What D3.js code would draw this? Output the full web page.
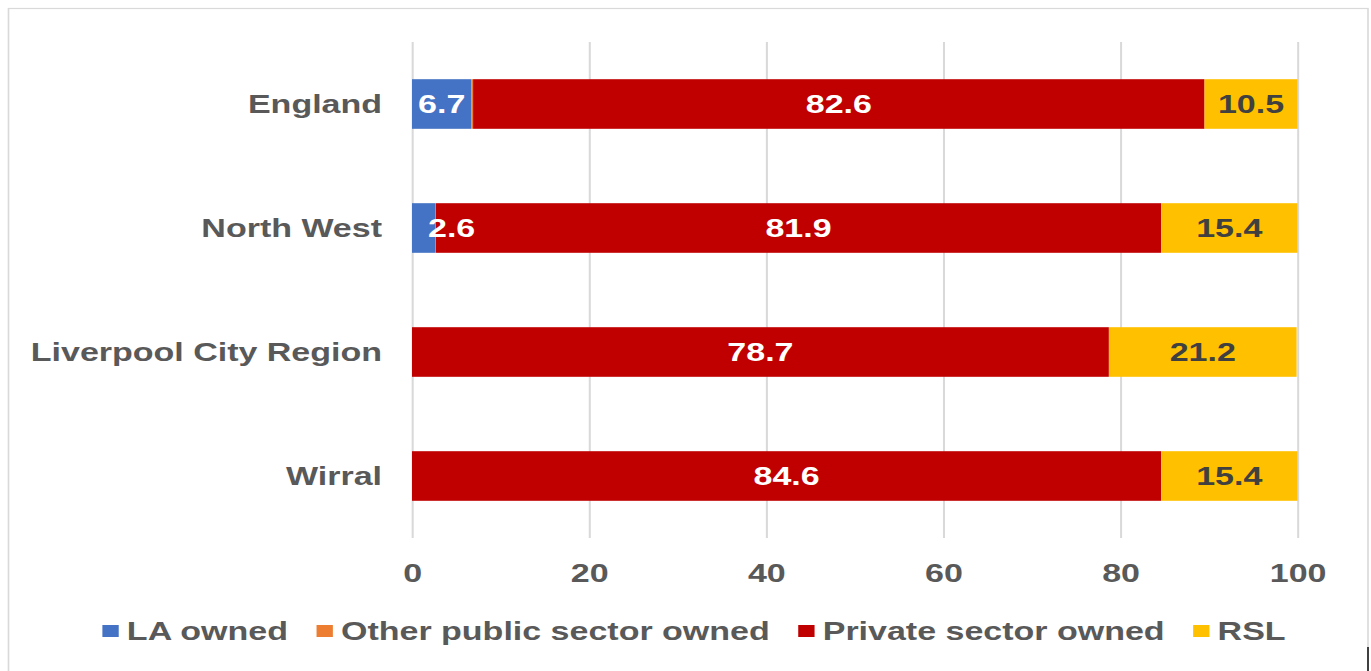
<!DOCTYPE html>
<html>
<head>
<meta charset="utf-8">
<script src="https://cdn.jsdelivr.net/npm/d3@7"></script>
<style>
  body { margin: 0; background: #fff; }
  text { font-family: "Liberation Sans", Arial, sans-serif; font-weight: bold; }
</style>
</head>
<body>
<div id="chart"></div>
<script>
// data
var categories = ["England", "North West", "Liverpool City Region", "Wirral"];
var laOwned = [6.7, 2.6, 0, 0];
var otherPublic = [0.2, 0.1, 0, 0];
var privateOwned = [82.6, 81.9, 78.7, 84.6];
var rsl = [10.5, 15.4, 21.2, 15.4];
var seriesNames = ["LA owned", "Other public sector owned", "Private sector owned", "RSL"];
var tickValues = [0, 20, 40, 60, 80, 100];

var colors = ["#4472C4", "#ED7D31", "#C00000", "#FFC000"];
var labelColors = ["#ffffff", null, "#ffffff", "#404040"];

// the picture is stretched sideways, so draw in narrower units and stretch
var sx = 1.36;
var pxWidth = 1371, pxHeight = 671;
var W = pxWidth / sx, H = pxHeight;

var svg = d3.select("#chart")
    .append("svg")
    .attr("width", pxWidth)
    .attr("height", pxHeight)
    .attr("viewBox", "0 0 " + W + " " + H)
    .attr("preserveAspectRatio", "none")
    .style("display", "block");

// outer frame
svg.append("rect")
    .attr("x", 8.5 / sx)
    .attr("y", 8.5)
    .attr("width", (1368 - 8.5) / sx)
    .attr("height", H + 10)
    .attr("fill", "none")
    .attr("stroke", "#d9d9d9")
    .attr("stroke-width", 1.2);

svg.append("line")
    .attr("x1", 1368 / sx).attr("x2", 1368 / sx)
    .attr("y1", 647).attr("y2", H)
    .attr("stroke", "#404040")
    .attr("stroke-width", 1.5);

var rows = categories.map(function(c, i) {
    return {
        cat: c,
        "LA owned": laOwned[i],
        "Other public sector owned": otherPublic[i],
        "Private sector owned": privateOwned[i],
        "RSL": rsl[i]
    };
});

var x = d3.scaleLinear()
    .domain([0, 100])
    .range([412 / sx, 1297.5 / sx]);

var y = d3.scaleBand()
    .domain(categories)
    .range([42, 538])
    .paddingInner(0.6)
    .paddingOuter(0.3);

// gridlines
var grid = svg.append("g")
    .attr("transform", "translate(0,538)")
    .call(d3.axisBottom(x).tickValues(tickValues).tickSize(-(538 - 42)).tickFormat(""));
grid.select(".domain").remove();
grid.selectAll("line").attr("stroke", "#d9d9d9").attr("stroke-width", 1.5);

// x tick labels
var xAxis = svg.append("g")
    .attr("transform", "translate(0,538)")
    .call(d3.axisBottom(x).tickValues(tickValues).tickSize(0));
xAxis.select(".domain").remove();
xAxis.selectAll("text")
    .attr("y", 44)
    .attr("dy", 0)
    .attr("fill", "#595959")
    .style("font-size", "25px");

// category labels
var yAxis = svg.append("g")
    .attr("transform", "translate(" + x(0) + ",0)")
    .call(d3.axisLeft(y).tickSize(0).tickPadding(30 / sx));
yAxis.select(".domain").remove();
yAxis.selectAll("text")
    .attr("fill", "#595959")
    .attr("dy", "0.34em")
    .style("font-size", "25px");

// stacked bars
var stacked = d3.stack().keys(seriesNames)(rows);

var layers = svg.append("g")
    .selectAll("g")
    .data(stacked)
    .enter()
    .append("g")
    .attr("fill", function(d, i) { return colors[i]; });

layers.selectAll("rect")
    .data(function(d) { return d; })
    .enter()
    .append("rect")
    .attr("x", function(d) { return x(d[0]); })
    .attr("y", function(d) { return y(d.data.cat); })
    .attr("width", function(d) { return x(d[1]) - x(d[0]); })
    .attr("height", y.bandwidth());

// data labels
var labels = svg.append("g");
stacked.forEach(function(layer, i) {
    if (!labelColors[i]) return;
    layer.forEach(function(d) {
        var v = d[1] - d[0];
        if (v <= 0) return;
        var t = labels.append("text")
            .attr("y", y(d.data.cat) + y.bandwidth() / 2)
            .attr("dy", "0.35em")
            .attr("fill", labelColors[i])
            .style("font-size", "25px")
            .text(v.toFixed(1));
        var w = t.node().getComputedTextLength();
        var segW = x(d[1]) - x(d[0]);
        var cx = (x(d[0]) + x(d[1])) / 2;
        if (w > segW) {
            t.attr("x", x(d[0]) + 16 / sx).attr("text-anchor", "start");
        } else {
            t.attr("x", cx).attr("text-anchor", "middle");
        }
    });
});

// legend
var legend = svg.append("g");
var sq = 12, sqGap = 6, itemGap = 21;
var pos = 0;
seriesNames.forEach(function(name, i) {
    var g = legend.append("g");
    g.append("rect")
        .attr("x", 0).attr("y", 625)
        .attr("width", sq).attr("height", sq)
        .attr("fill", colors[i]);
    var t = g.append("text")
        .attr("x", sq + sqGap)
        .attr("y", 640)
        .attr("fill", "#595959")
        .style("font-size", "25px")
        .text(name);
    var w = sq + sqGap + t.node().getComputedTextLength();
    g.attr("transform", "translate(" + pos + ",0)");
    pos += w + itemGap;
});
var total = pos - itemGap;
legend.attr("transform", "translate(" + (694 / sx - total / 2) + ",0)");
</script>
</body>
</html>
